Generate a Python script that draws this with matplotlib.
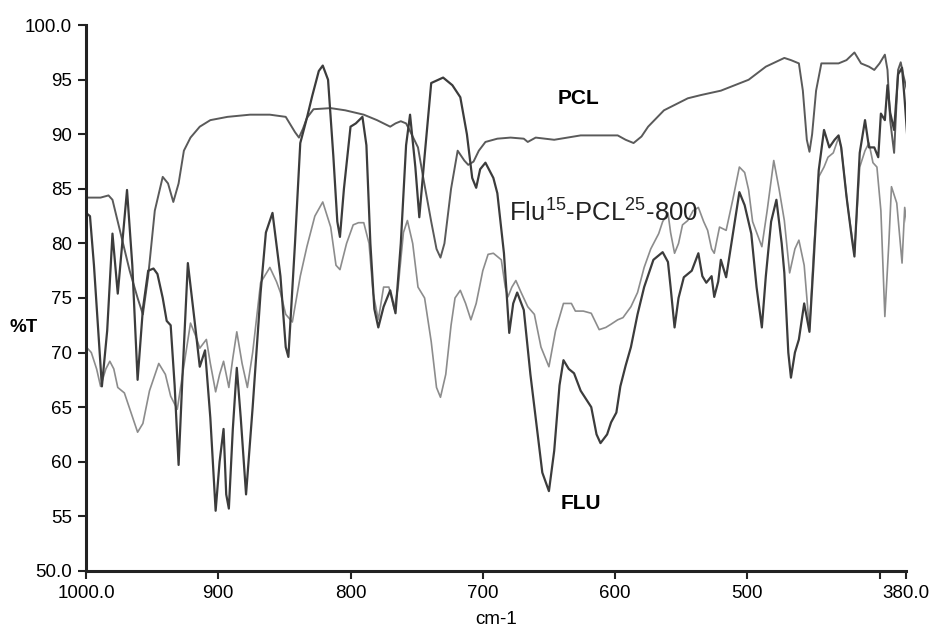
import matplotlib
matplotlib.use('Agg')
import matplotlib.pyplot as plt

plt.rcParams['font.family'] = ['Liberation Sans', 'DejaVu Sans']
plt.rcParams['mathtext.fontset'] = 'custom'
plt.rcParams['mathtext.rm'] = 'Liberation Sans'

# FLU spectrum (wavenumber cm-1, %T)
flu_wn = [1000, 997, 994, 988, 984, 980, 976, 969, 965, 961, 957, 953, 949, 946, 942, 939,
          936, 933, 930, 927, 923, 918, 914, 910, 906, 902, 899, 896, 894, 892, 889, 886,
          883, 879, 874, 868, 864, 859, 853, 849, 847, 842, 838, 833, 829, 824, 821, 817,
          813, 810, 808, 805, 800, 796, 791, 788, 785, 782, 779, 775, 770, 766, 762, 758,
          755, 751, 748, 744, 739, 730, 723, 717, 712, 708, 705, 702, 698, 692, 689, 684,
          680, 677, 674, 669, 664, 659, 655, 650, 646, 642, 639, 635, 631, 626, 618, 614,
          611, 606, 603, 599, 596, 592, 588, 583, 578, 571, 564, 560, 558, 555, 552, 548,
          542, 537, 534, 531, 527, 525, 522, 520, 516, 512, 506, 502, 497, 493, 489, 486,
          482, 478, 474, 472, 469, 467, 464, 461, 457, 453, 450, 446, 442, 438, 434, 431,
          429, 425, 421, 419, 415, 411, 408, 404, 401, 399, 396, 394, 392, 389, 386, 383,
          381, 379]
flu_t = [82.8, 82.5, 78.0, 66.9, 72.0, 80.9, 75.4, 84.9, 78.0, 67.5, 74.0, 77.5, 77.7, 77.2, 75.0, 72.9,
         72.5, 67.0, 59.7, 68.0, 78.2, 73.0, 68.7, 70.2, 64.0, 55.5, 60.0, 63.0, 57.0, 55.7, 63.0, 68.6,
         64.0, 57.0, 65.0, 75.5, 81.0, 82.8, 77.0, 70.5, 69.6, 80.0, 89.2, 91.5, 93.5, 95.8, 96.3, 95.0,
         88.0, 82.0, 80.6, 85.0, 90.7, 91.0, 91.6, 89.0, 80.0, 74.0, 72.3, 74.2, 75.7, 73.6, 80.0, 89.0,
         91.8, 87.0, 82.4, 88.0, 94.7, 95.2, 94.5, 93.4, 90.0, 86.0, 85.1, 86.8, 87.4, 86.0, 84.6, 79.1,
         71.8, 74.5, 75.5, 73.9, 68.0, 63.0, 59.0, 57.3, 61.0, 67.0, 69.3, 68.5, 68.1, 66.5, 65.0, 62.5,
         61.7, 62.5, 63.6, 64.5, 66.9, 68.8, 70.5, 73.5, 76.0, 78.5, 79.2, 78.3, 76.0, 72.3, 75.0, 76.9,
         77.5, 79.1, 77.0, 76.4, 77.0, 75.1, 76.5, 78.5, 76.9, 80.0, 84.7, 83.5, 80.9, 76.0, 72.3, 77.0,
         82.0, 84.0, 80.0, 77.3, 70.0, 67.7, 70.0, 71.2, 74.5, 71.9, 78.0, 86.7, 90.4, 88.8, 89.5, 89.9,
         88.8, 84.3, 80.5, 78.8, 88.3, 91.3, 88.8, 88.8, 87.9, 91.9, 91.3, 94.5, 92.0, 90.4, 95.5, 96.1,
         93.1, 89.7]

# PCL spectrum
pcl_wn = [1000, 989, 983, 980, 976, 972, 967, 961, 957, 953, 948, 942, 938, 934, 930, 926,
          921, 914, 906, 893, 876, 861, 849, 846, 842, 839, 836, 833, 828, 815, 804, 790,
          780, 770, 766, 762, 758, 755, 749, 745, 739, 735, 732, 729, 724, 719, 714, 711,
          707, 703, 698, 689, 679, 669, 666, 660, 646, 626, 598, 592, 586, 580, 575, 563,
          545, 535, 520, 499, 486, 472, 467, 461, 458, 455, 453, 451, 448, 444, 431, 425,
          419, 414, 408, 404, 400, 396, 394, 392, 389, 386, 384, 382, 379]
pcl_t = [84.2, 84.2, 84.4, 84.0, 82.0, 80.0, 77.5, 75.0, 73.5, 77.0, 83.0, 86.1, 85.5, 83.8, 85.5, 88.5,
         89.7, 90.7, 91.3, 91.6, 91.8, 91.8, 91.6, 91.0, 90.2, 89.7, 90.5, 91.5, 92.3, 92.4, 92.2, 91.8,
         91.3, 90.7, 91.0, 91.2, 91.0, 90.3, 88.8, 86.0, 82.0, 79.5, 78.7, 80.0, 85.0, 88.5, 87.6, 87.2,
         87.5, 88.5, 89.3, 89.6, 89.7, 89.6, 89.3, 89.7, 89.5, 89.9, 89.9, 89.5, 89.2, 89.8, 90.7, 92.2,
         93.3, 93.6, 94.0, 95.0, 96.2, 97.0, 96.8, 96.5, 94.0, 89.5, 88.4, 90.0, 94.0, 96.5, 96.5, 96.8,
         97.5, 96.5, 96.2, 95.9, 96.5, 97.3, 95.9, 91.3, 88.3, 95.9, 96.6, 95.4, 93.9]

# Flu15-PCL25-800 spectrum
comp_wn = [999, 996, 992, 989, 985, 982, 979, 976, 971, 966, 961, 957, 952, 945, 940, 936,
           931, 927, 921, 917, 914, 909, 906, 902, 899, 896, 892, 889, 886, 882, 878, 874,
           868, 861, 856, 853, 849, 844, 838, 833, 827, 821, 815, 811, 808, 803, 798, 794,
           790, 786, 783, 779, 775, 771, 767, 764, 760, 757, 753, 749, 744, 739, 735, 732,
           728, 724, 721, 717, 713, 709, 705, 700, 696, 692, 686, 683, 681, 678, 675, 671,
           666, 661, 656, 650, 645, 639, 633, 630, 624, 618, 612, 607, 603, 598, 594, 588,
           583, 578, 573, 567, 564, 560, 558, 555, 552, 549, 545, 541, 537, 533, 530, 527,
           525, 521, 516, 511, 506, 502, 499, 496, 489, 485, 480, 476, 472, 468, 464, 461,
           457, 453, 450, 446, 442, 439, 435, 431, 429, 424, 419, 415, 411, 408, 405, 402,
           399, 396, 393, 391, 387, 383, 381, 379]
comp_t = [70.4, 70.0, 68.5, 66.9, 68.5, 69.2, 68.5, 66.8, 66.3, 64.5, 62.7, 63.5, 66.5, 69.0, 68.0, 66.0,
          64.8, 68.0, 72.7, 71.5, 70.4, 71.2, 69.0, 66.4, 68.0, 69.2, 66.8, 69.5, 71.9, 69.0, 66.8, 70.0,
          76.4, 77.8, 76.5, 75.5, 73.5, 72.8, 77.0, 79.7, 82.5, 83.8, 81.5, 78.0, 77.6, 80.0, 81.7, 81.9,
          81.9, 80.0, 75.5, 73.0, 76.0, 76.0, 74.0, 76.0, 81.0, 82.1, 80.0, 76.0, 75.0, 71.0, 66.8, 65.9,
          68.0, 72.5, 75.0, 75.7, 74.5, 73.0, 74.5, 77.5, 79.0, 79.1, 78.5, 76.0, 75.1, 76.0, 76.6, 75.5,
          74.2, 73.5, 70.5, 68.7, 72.0, 74.5, 74.5, 73.8, 73.8, 73.6, 72.1, 72.3, 72.6, 73.0, 73.2, 74.2,
          75.5, 77.8, 79.5, 80.9, 82.0, 82.8, 81.0, 79.1, 80.0, 81.7, 82.1, 83.0, 83.3, 82.0, 81.2, 79.5,
          79.1, 81.5, 81.2, 84.0, 87.0, 86.5, 84.9, 82.0, 79.7, 83.0, 87.6, 85.0, 82.1, 77.3, 79.5, 80.3,
          78.0, 72.1, 79.0, 86.1, 87.0, 87.9, 88.3, 89.7, 88.8, 83.3, 79.1, 87.0, 88.5, 89.2, 87.4, 87.0,
          83.0, 73.3, 80.0, 85.2, 83.7, 78.2, 83.3, 81.5]

x_ticks = [1000, 900, 800, 700, 600, 500, 400, 380]
x_labels = ['1000.0', '900', '800', '700', '600', '500', '', '380.0']
y_ticks = [50, 55, 60, 65, 70, 75, 80, 85, 90, 95, 100]
y_labels = ['50.0', '55', '60', '65', '70', '75', '80', '85', '90', '95', '100.0']

fig = plt.figure(figsize=(9.35, 6.3), dpi=100)
ax = fig.add_axes([0.092, 0.094, 0.877, 0.866])

ax.plot(comp_wn, comp_t, color='#8c8c8c', lw=1.2, solid_joinstyle='round')
ax.plot(pcl_wn, pcl_t, color='#5a5a5a', lw=1.4, solid_joinstyle='round')
ax.plot(flu_wn, flu_t, color='#3c3c3c', lw=1.6, solid_joinstyle='round')

ax.set_xlim(1000, 380)
ax.set_ylim(50, 100)
ax.set_xticks(x_ticks)
ax.set_xticklabels(x_labels, fontsize=13.5)
ax.set_yticks(y_ticks)
ax.set_yticklabels(y_labels, fontsize=13.5)
ax.tick_params(axis='both', direction='out', width=1.5, length=6, color='#222222', pad=4)

for s in ['top', 'right']:
    ax.spines[s].set_visible(False)
for s in ['left', 'bottom']:
    ax.spines[s].set_linewidth(2.2)
    ax.spines[s].set_color('#222222')

ax.set_xlabel('cm-1', fontsize=13.5, labelpad=7)
ax.text(-0.093, 0.445, '%T', transform=ax.transAxes, fontsize=13.5, fontweight='bold',
        ha='left', va='center')

ax.text(628, 93.3, 'PCL', fontsize=15, fontweight='bold', ha='center', va='center')
ax.text(680, 82.9, r'Flu$^{\mathregular{15}}$-PCL$^{\mathregular{25}}$-800', fontsize=18.5,
        ha='left', va='center', color='#222222')
ax.text(626, 56.2, 'FLU', fontsize=15, fontweight='bold', ha='center', va='center')

fig.savefig('out.png', dpi=100)
